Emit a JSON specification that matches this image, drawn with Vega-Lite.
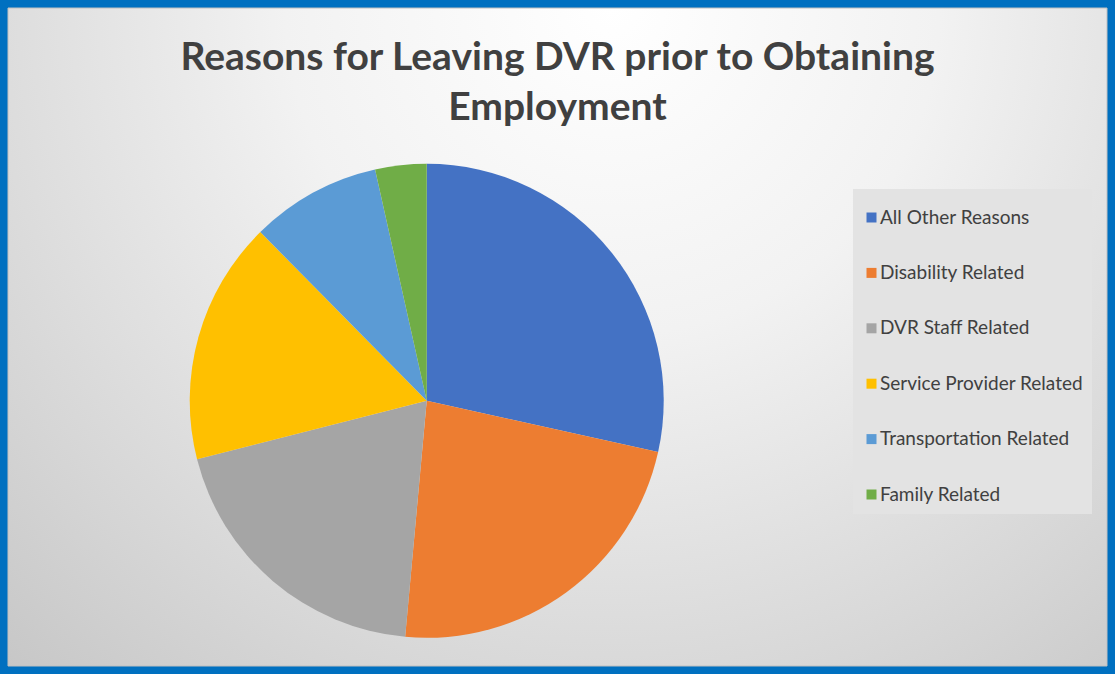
{
  "$schema": "https://vega.github.io/schema/vega-lite/v6.json",
  "width": 1099,
  "height": 658,
  "padding": 8,
  "autosize": {"type": "none"},
  "background": "#0070C0",
  "config": {
    "view": {"fill": "#e6e6e6", "stroke": "#c0c0c0", "strokeWidth": 1}
  },
  "title": {
    "text": ["Reasons for Leaving DVR prior to Obtaining", "Employment"],
    "font": "Lato",
    "fontSize": 39,
    "fontWeight": "bold",
    "color": "#404040",
    "anchor": "middle",
    "frame": "group",
    "baseline": "top",
    "offset": -30,
    "dy": 90,
    "lineHeight": 50
  },
  "layer": [
    {
      "data": {"values": [{"panel": "background"}]},
      "mark": {
        "type": "rect",
        "fill": {
          "gradient": "radial",
          "x1": 0.55, "y1": 0.2, "r1": 0,
          "x2": 0.55, "y2": 0.2, "r2": 0.85,
          "stops": [
            {"offset": 0, "color": "#ffffff"},
            {"offset": 0.35, "color": "#f2f2f2"},
            {"offset": 0.75, "color": "#d6d6d6"},
            {"offset": 1, "color": "#c4c4c4"}
          ]
        },
        "stroke": "#c0c0c0",
        "strokeWidth": 1
      },
      "encoding": {}
    },
    {
      "data": {
        "values": [
          {"reason": "All Other Reasons", "value": 28.5},
          {"reason": "Disability Related", "value": 23.0},
          {"reason": "DVR Staff Related", "value": 19.6},
          {"reason": "Service Provider Related", "value": 16.6},
          {"reason": "Transportation Related", "value": 8.9},
          {"reason": "Family Related", "value": 3.5}
        ]
      },
      "mark": {
        "type": "arc",
        "radius": 237,
        "x": {"expr": "width*0.381"},
        "y": {"expr": "height*0.597"}
      },
      "encoding": {
        "theta": {"field": "value", "type": "quantitative", "stack": true},
        "order": {"field": "value", "sort": "descending"},
        "color": {
          "field": "reason",
          "type": "nominal",
          "scale": {
            "domain": ["All Other Reasons", "Disability Related", "DVR Staff Related", "Service Provider Related", "Transportation Related", "Family Related"],
            "range": ["#4472C4", "#ED7D31", "#A5A5A5", "#FFC000", "#5B9BD5", "#70AD47"]
          },
          "legend": {
            "orient": "none",
            "legendX": 845,
            "legendY": 181,
            "title": " ",
            "titleFontSize": 10,
            "titlePadding": 0,
            "padding": 9,
            "fillColor": "#e3e3e3",
            "symbolType": "square",
            "symbolSize": 100,
            "symbolStrokeWidth": 0,
            "symbolOpacity": 1,
            "labelFont": "Lato",
            "labelFontSize": 19,
            "labelColor": "#404040",
            "labelOffset": -1,
            "labelLimit": 400,
            "rowPadding": 35.4
          }
        }
      }
    }
  ]
}
